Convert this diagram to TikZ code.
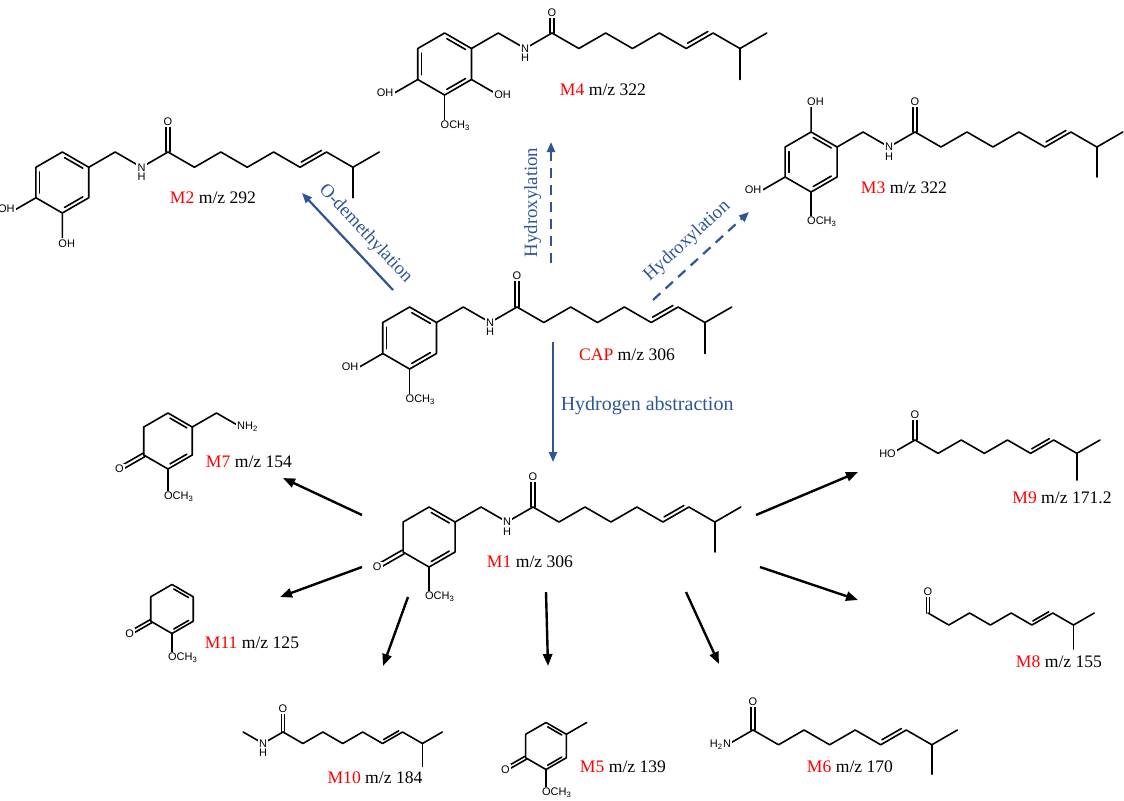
\documentclass[tikz,border=0pt]{standalone}
\usepackage{fontspec}
\setmainfont{Liberation Serif}
\setsansfont{Liberation Sans}
\usetikzlibrary{arrows.meta}

\definecolor{pathblue}{RGB}{47,85,151}

\tikzset{
  bond/.style={line width=0.8pt,line join=round,line cap=round},
  atom/.style={font=\sffamily\fontsize{5.5}{6}\selectfont,fill=white,inner sep=0.6pt},
  lbl/.style={font=\fontsize{8.8}{10}\selectfont},
  blbl/.style={font=\fontsize{9.4}{11}\selectfont,text=pathblue},
  barrow/.style={pathblue,line width=1.1pt,-{Triangle[length=5pt,width=4pt]}},
  karrow/.style={line width=1.2pt,-{Triangle[length=6pt,width=4.6pt]}},
}

\newcommand{\mz}[2]{\textcolor{red}{#1} m/z #2}

\newcommand{\tail}[2][1]{%
  \draw[bond] (0,0) -- (.866,.5) -- (1.732,0) -- (2.598,.5) -- (3.464,0)
    -- (4.33,.5) -- (5.196,0) -- (6.062,.5) -- (6.928,0);
  \draw[bond] (6.062,.5) -- (6.062,1.5);
  \draw[bond] (4.37,.33) -- (5.03,-.05);
  \draw[bond] (-.07,0) -- (-.07,-#1) (.07,0) -- (.07,-#1);
  \node[atom] (#2-o) at (0,-#1) {O};
}

\newcommand{\amide}[1]{%
  \draw[bond] (0,0) -- (-.866,.5) -- (-1.732,0) -- (-2.598,.5);
  \node[atom] (#1-n) at (-.866,.5) {N};
  \node[atom,yshift=-4.7pt] (#1-h) at (#1-n) {H};
}

\newcommand{\arom}{%
  \draw[bond] (-90:1) -- (-30:1) -- (30:1) -- (90:1) -- (150:1) -- (210:1) -- cycle;
  \foreach \a in {-90,30,150}
    \draw[bond] ({\a+5}:.82) -- ({\a+55}:.82);
}

\newcommand{\methoxy}[1]{%
  \draw[bond] (90:1) -- (90:2);
  \node[atom,anchor=west,xshift=-2.75pt] (#1-ome) at (90:2) {OCH\textsubscript{3}};
}

\newcommand{\dienone}[1]{%
  \draw[bond] (-90:1) -- (-30:1) -- (30:1) -- (90:1) -- (150:1) -- (210:1) -- cycle;
  \foreach \a in {-90,30}
    \draw[bond] ({\a+5}:.82) -- ({\a+55}:.82);
  \draw[bond] (-.83,.56) -- (-1.70,1.06) (-.90,.44) -- (-1.77,.94);
  \node[atom] (#1-o) at (150:2) {O};
  \methoxy{#1}
}

\begin{document}
\begin{tikzpicture}[x=0.5pt,y=-0.5pt]
\useasboundingbox (0,0) rectangle (1124,800);

\begin{scope}[shift={(517,307)},scale=31]
  \tail{cap} \amide{cap}
  \begin{scope}[shift={(-3.464,1)}]
    \arom
    \draw[bond] (150:1) -- (150:1.85);
    \node[atom,anchor=east] (cap-oh) at (150:1.85) {OH};
    \methoxy{cap}
  \end{scope}
\end{scope}

\begin{scope}[shift={(168,152)},scale=30.5]
  \tail{m2} \amide{m2}
  \begin{scope}[shift={(-3.464,1)}]
    \arom
    \draw[bond] (150:1) -- (150:1.75) (90:1) -- (90:2);
    \node[atom,anchor=east] (m2-oha) at (150:1.75) {OH};
    \node[atom,anchor=west,xshift=-2.75pt] (m2-ohb) at (90:2) {OH};
  \end{scope}
\end{scope}

\begin{scope}[shift={(915,132)},scale=30]
  \tail{m3} \amide{m3}
  \begin{scope}[shift={(-3.464,1)}]
    \arom
    \draw[bond] (-90:1) -- (-90:2) (150:1) -- (150:1.85);
    \node[atom,anchor=west,xshift=-2.75pt] (m3-oha) at (-90:2) {OH};
    \node[atom,anchor=east] (m3-ohb) at (150:1.85) {OH};
    \methoxy{m3}
  \end{scope}
\end{scope}

\begin{scope}[shift={(552,33)},scale=31]
  \tail[.65]{m4} \amide{m4}
  \begin{scope}[shift={(-3.464,1)}]
    \arom
    \draw[bond] (150:1) -- (150:1.85) (30:1) -- (30:2);
    \node[atom,anchor=east] (m4-oha) at (150:1.85) {OH};
    \node[atom,anchor=west,xshift=-2.75pt] (m4-ohb) at (30:2) {OH};
    \methoxy{m4}
  \end{scope}
\end{scope}

\begin{scope}[shift={(533,507)},scale=30]
  \tail{m1} \amide{m1}
  \begin{scope}[shift={(-3.464,1)}]
    \dienone{m1}
  \end{scope}
\end{scope}

\begin{scope}[shift={(168,441)},scale=28]
  \dienone{m7}
  \draw[bond] (-30:1) -- (1.732,-1) -- (2.598,-.5);
  \node[atom,anchor=west,xshift=-2.6pt] (m7-nh) at (2.598,-.5) {NH\textsubscript{2}};
\end{scope}

\begin{scope}[shift={(172,609)},scale=24.5]
  \dienone{m11}
\end{scope}

\begin{scope}[shift={(546,746)},scale=23.5]
  \dienone{m5}
  \draw[bond] (-30:1) -- (1.732,-1);
\end{scope}

\begin{scope}[shift={(283,732)},scale=23]
  \tail{m10}
  \draw[bond] (0,0) -- (-.866,.5) -- (-1.732,0);
  \node[atom] (m10-n) at (-.866,.5) {N};
  \node[atom,yshift=-4.7pt] (m10-h) at (m10-n) {H};
\end{scope}

\begin{scope}[shift={(753,730)},scale=29.5]
  \tail[.95]{m6}
  \draw[bond] (0,0) -- (-.866,.5);
  \node[atom,anchor=east,xshift=2.6pt] (m6-n) at (-.866,.5) {H\textsubscript{2}N};
\end{scope}

\begin{scope}[shift={(915,440)},scale=26.7]
  \tail[.95]{m9}
  \draw[bond] (0,0) -- (-.866,.5);
  \node[atom,anchor=east,xshift=2.75pt] (m9-oh) at (-.866,.5) {HO};
\end{scope}

\begin{scope}[shift={(928,613)},scale=24]
  \tail[.9]{m8}
\end{scope}

\node[lbl] (lcap) at (627,355) {\mz{CAP}{306}};
\node[lbl] (lm1) at (530,562) {\mz{M1}{306}};
\node[lbl] (lm2) at (213,198) {\mz{M2}{292}};
\node[lbl] (lm3) at (904,188) {\mz{M3}{322}};
\node[lbl] (lm4) at (603,90) {\mz{M4}{322}};
\node[lbl] (lm5) at (623,767) {\mz{M5}{139}};
\node[lbl] (lm6) at (850,767) {\mz{M6}{170}};
\node[lbl] (lm7) at (249,462) {\mz{M7}{154}};
\node[lbl] (lm8) at (1059,662) {\mz{M8}{155}};
\node[lbl] (lm9) at (1062,498) {\mz{M9}{171.2}};
\node[lbl] (lm10) at (375,778) {\mz{M10}{184}};
\node[lbl] (lm11) at (252,643) {\mz{M11}{125}};

\coordinate (cap-sw) at (393,290);
\coordinate (cap-up) at (551,263);
\coordinate (cap-ne) at (653,300);
\coordinate (cap-dn) at (553,342);
\coordinate (m2-in) at (302,193);
\coordinate (m4-in) at (551,142);
\coordinate (m3-in) at (749,212);
\coordinate (m1-in) at (553,462);
\draw[barrow] (cap-sw) -- node[blbl,sloped,above=1pt,pos=.45] {O-demethylation} (m2-in);
\draw[barrow,dash pattern=on 5pt off 3.5pt] (cap-up) -- node[blbl,sloped,above=1pt] {Hydroxylation} (m4-in);
\draw[barrow,dash pattern=on 5pt off 3.5pt] (cap-ne) -- node[blbl,sloped,above=2pt] {Hydroxylation} (m3-in);
\draw[barrow] (cap-dn) -- node[blbl,right=0pt,pos=.53,font=\fontsize{10}{12}\selectfont] {Hydrogen abstraction} (m1-in);

\coordinate (m1-to7) at (362,515);
\coordinate (m1-to11) at (362,567);
\coordinate (m1-to10) at (408,597);
\coordinate (m1-to5) at (546,592);
\coordinate (m1-to6) at (686,592);
\coordinate (m1-to8) at (760,567);
\coordinate (m1-to9) at (756,515);
\coordinate (m7-in) at (283,478);
\coordinate (m11-in) at (280,597);
\coordinate (m10-in) at (383,666);
\coordinate (m5-in) at (548,666);
\coordinate (m6-in) at (719,664);
\coordinate (m8-in) at (858,600);
\coordinate (m9-in) at (858,472);
\draw[karrow] (m1-to7) -- (m7-in);
\draw[karrow] (m1-to11) -- (m11-in);
\draw[karrow] (m1-to10) -- (m10-in);
\draw[karrow] (m1-to5) -- (m5-in);
\draw[karrow] (m1-to6) -- (m6-in);
\draw[karrow] (m1-to8) -- (m8-in);
\draw[karrow] (m1-to9) -- (m9-in);
\end{tikzpicture}
\end{document}
